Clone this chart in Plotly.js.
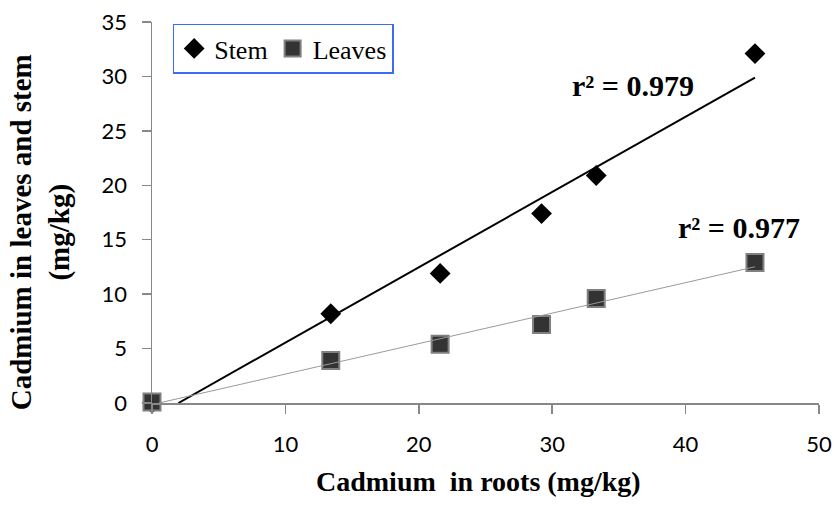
<!DOCTYPE html>
<html>
<head>
<meta charset="utf-8">
<script src="https://cdn.plot.ly/plotly-3.0.1.min.js"></script>
<style>html,body{margin:0;padding:0;background:#fff;}#chart{width:836px;height:506px;}</style>
</head>
<body>
<div id="chart"></div>
<script>
// Data
const roots = [0, 13.4, 21.6, 29.2, 33.3, 45.2];
const stem = [0, 8.2, 11.9, 17.4, 20.9, 32.1];
const leaves = [0.1, 3.9, 5.4, 7.2, 9.6, 12.9];
const seriesNames = ['Stem', 'Leaves'];
const r2Labels = ['r² = 0.979', 'r² = 0.977'];
const xTicks = [0, 10, 20, 30, 40, 50];
const yTicks = [0, 5, 10, 15, 20, 25, 30, 35];

function fit(x, y) {
  const n = x.length;
  const mx = x.reduce((a, b) => a + b, 0) / n;
  const my = y.reduce((a, b) => a + b, 0) / n;
  let sxy = 0, sxx = 0;
  for (let i = 0; i < n; i++) { sxy += (x[i] - mx) * (y[i] - my); sxx += (x[i] - mx) ** 2; }
  const m = sxy / sxx;
  return { m: m, b: my - m * mx };
}
function trendXY(x, y) {
  const f = fit(x, y);
  const xmin = Math.min(...x), xmax = Math.max(...x);
  let x0 = xmin;
  if (f.m * x0 + f.b < 0) x0 = -f.b / f.m;
  return { x: [x0, xmax], y: [f.m * x0 + f.b, f.m * xmax + f.b] };
}
const ts = trendXY(roots, stem);
const tl = trendXY(roots, leaves);

const serif = '"Liberation Serif", "Times New Roman", serif';
const traces = [
  { x: roots, y: stem, name: seriesNames[0], type: 'scatter', mode: 'markers', cliponaxis: false,
    marker: { symbol: 'diamond', size: 16, color: '#000000' } },
  { x: roots, y: leaves, name: seriesNames[1], type: 'scatter', mode: 'markers', cliponaxis: false,
    marker: { symbol: 'square', size: 17, color: '#333333', line: { color: '#808080', width: 2 } } },
  { x: ts.x, y: ts.y, type: 'scatter', mode: 'lines', showlegend: false, hoverinfo: 'skip',
    line: { color: '#000000', width: 2 } },
  { x: tl.x, y: tl.y, type: 'scatter', mode: 'lines', showlegend: false, hoverinfo: 'skip',
    line: { color: '#9a9a9a', width: 1 } }
];

const tickFont = { family: 'Lato, "Open Sans", sans-serif', size: 22, color: '#000' };
const layout = {
  width: 836, height: 506,
  margin: { l: 152, r: 17, t: 21.5, b: 103 },
  paper_bgcolor: '#fff', plot_bgcolor: '#fff',
  showlegend: true,
  legend: {
    orientation: 'h', x: 0.031, y: 0.996, xanchor: 'left', yanchor: 'top',
    bgcolor: '#fff', bordercolor: '#3a6cf4', borderwidth: 1.5,
    font: { family: serif, size: 26, color: '#000' },
    itemwidth: 30, tracegroupgap: 0
  },
  xaxis: {
    range: [0, 50], tickvals: xTicks, ticktext: xTicks.map(String),
    showline: true, linecolor: '#888', linewidth: 1.5,
    ticks: 'outside', ticklen: 9, tickwidth: 1.5, tickcolor: '#888',
    showgrid: false, zeroline: false, tickfont: tickFont, ticklabelstandoff: 12,
    fixedrange: true
  },
  yaxis: {
    range: [0, 35], tickvals: yTicks, ticktext: yTicks.map(String),
    showline: true, linecolor: '#888', linewidth: 1.5,
    ticks: 'outside', ticklen: 9, tickwidth: 1.5, tickcolor: '#888',
    showgrid: false, zeroline: false, tickfont: tickFont, ticklabelstandoff: 10,
    fixedrange: true
  },
  annotations: [
    { text: '<b>' + r2Labels[0] + '</b>', x: 31.3, y: 29.2, xref: 'x', yref: 'y', xanchor: 'left', yanchor: 'middle', showarrow: false,
      font: { family: serif, size: 30, color: '#000' } },
    { text: '<b>' + r2Labels[1] + '</b>', x: 39.3, y: 16.1, xref: 'x', yref: 'y', xanchor: 'left', yanchor: 'middle', showarrow: false,
      font: { family: serif, size: 30, color: '#000' } },
    { text: '<b>Cadmium  in roots (mg/kg)</b>', x: 0.49, y: -0.207, xref: 'paper', yref: 'paper', xanchor: 'center', yanchor: 'middle', showarrow: false,
      font: { family: serif, size: 28, color: '#000' } },
    { text: '<b>Cadmium in leaves and stem<br>(mg/kg)</b>', x: -0.167, y: 0.447, xref: 'paper', yref: 'paper', xanchor: 'center', yanchor: 'middle', showarrow: false,
      textangle: -90,
      font: { family: serif, size: 29, color: '#000' } }
  ]
};
Plotly.newPlot('chart', traces, layout, { displayModeBar: false, staticPlot: true });
</script>
</body>
</html>
